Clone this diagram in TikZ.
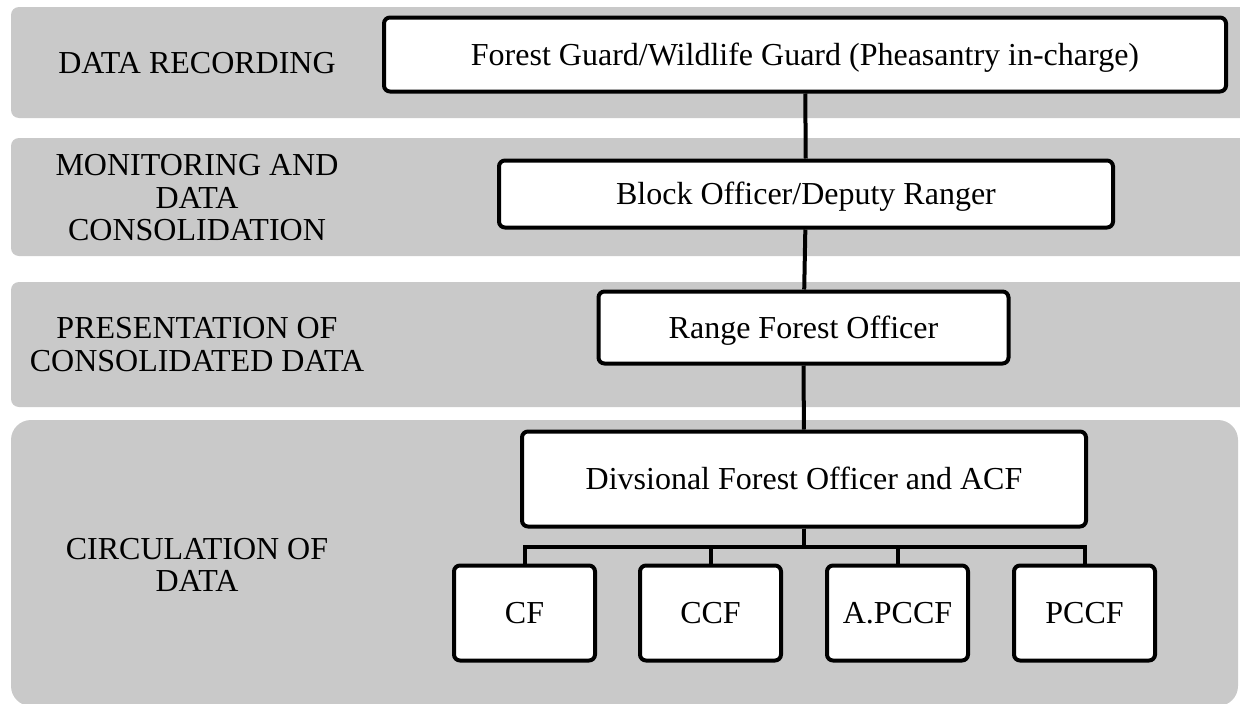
\documentclass[tikz,border=0pt]{standalone}
\usepackage{fontspec}
\setmainfont{Liberation Serif}
\definecolor{bandgray}{RGB}{201,201,201}

\begin{document}
\begin{tikzpicture}[x=1pt,y=-1pt,
    band/.style={fill=bandgray,draw=none},
    post/.style={draw=black,line width=4pt,fill=white,rounded corners=6pt,
                 inner sep=0pt,text height=0.66em,text depth=0pt},
    stage/.style={align=center,inner sep=0pt},
    link/.style={line width=4pt}]
    \useasboundingbox (0,0) rectangle (1240,704);
    \fontsize{32}{32.5}\selectfont
    % Draw bands
    \fill[band,rounded corners=8pt]  (11,7)   rectangle (1260,118);
    \fill[band,rounded corners=8pt]  (11,138) rectangle (1260,256);
    \fill[band,rounded corners=8pt]  (11,282) rectangle (1260,407);
    \fill[band,rounded corners=20pt] (11,420) rectangle (1238,706);
    % Draw stage names
    \node[stage] (recording)    at (197,63)    {DATA RECORDING};
    \node[stage] (monitoring)   at (197,198)   {MONITORING AND\\DATA\\CONSOLIDATION};
    \node[stage] (presentation) at (197,344.5) {PRESENTATION OF\\CONSOLIDATED DATA};
    \node[stage] (circulation)  at (197,565)   {CIRCULATION OF\\DATA};
    % Draw posts
    \node[post,minimum width=842pt,minimum height=74pt] (guard) at (805,54.5)
        {Forest Guard/Wildlife Guard (Pheasantry in-charge)};
    \node[post,minimum width=614pt,minimum height=67pt] (block) at (806,194)
        {Block Officer/Deputy Ranger};
    \node[post,minimum width=410pt,minimum height=72pt] (range) at (803.5,327.5)
        {Range Forest Officer};
    \node[post,minimum width=564pt,minimum height=95pt] (dfo) at (804,479)
        {Divsional Forest Officer and ACF};
    \node[post,minimum width=141pt,minimum height=95pt] (cf)    at (524.5,613)  {CF};
    \node[post,minimum width=141pt,minimum height=95pt] (ccf)   at (710.5,613)  {CCF};
    \node[post,minimum width=141pt,minimum height=95pt] (apccf) at (897.5,613)  {A.PCCF};
    \node[post,minimum width=141pt,minimum height=95pt] (pccf)  at (1084.5,613) {PCCF};
    % Draw lines
    \draw[link] (guard) -- (block);
    \draw[link] (block) -- (range);
    \draw[link] (range) -- (dfo);
    \foreach \n in {cf,ccf,apccf,pccf}
        \draw[link] (dfo.south) -- ++(0,18) -| (\n.north);
\end{tikzpicture}
\end{document}
